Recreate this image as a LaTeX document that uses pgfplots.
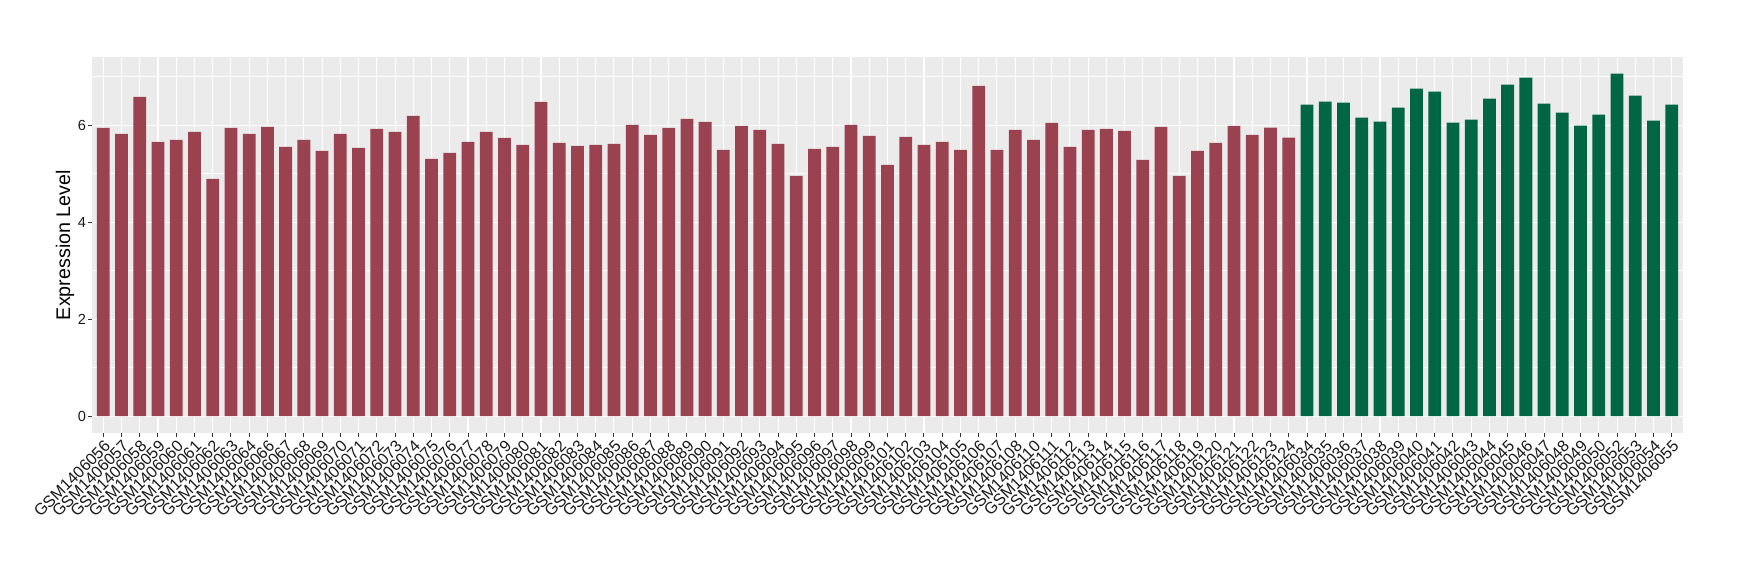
\documentclass[border=0pt]{standalone}
\usepackage{pgfplots}
\pgfplotsset{compat=1.18}
\usepackage{pgfplotstable}
\usepackage{fontspec}
\setmainfont{Liberation Sans}
\definecolor{bgcol}{HTML}{EBEBEB}
\definecolor{redbar}{HTML}{9B4251}
\definecolor{greenbar}{HTML}{006644}
\definecolor{ticktxt}{HTML}{1A1A1A}
\definecolor{tickcol}{HTML}{333333}
\pgfplotstableread{
x y
0 5.945
1 5.82
2 6.585
3 5.656
4 5.697
5 5.862
6 4.892
7 5.945
8 5.82
9 5.966
10 5.553
11 5.697
12 5.47
13 5.82
14 5.532
15 5.924
16 5.862
17 6.193
18 5.305
19 5.429
20 5.656
21 5.862
22 5.739
23 5.594
24 6.482
25 5.635
26 5.573
27 5.594
28 5.615
29 6.007
30 5.80
31 5.945
32 6.131
33 6.069
34 5.491
35 5.986
36 5.904
37 5.615
38 4.954
39 5.512
40 5.553
41 6.007
42 5.78
43 5.181
44 5.759
45 5.594
46 5.656
47 5.491
48 6.812
49 5.491
50 5.904
51 5.697
52 6.048
53 5.553
54 5.904
55 5.924
56 5.883
57 5.284
58 5.966
59 4.954
60 5.47
61 5.635
62 5.986
63 5.80
64 5.95
65 5.744
}\redtable
\pgfplotstableread{
x y
66 6.426
67 6.488
68 6.467
69 6.157
70 6.074
71 6.364
72 6.756
73 6.694
74 6.054
75 6.116
76 6.55
77 6.839
78 6.983
79 6.446
80 6.26
81 5.99
82 6.219
83 7.066
84 6.612
85 6.095
86 6.426
}\greentable
\begin{document}
\begin{tikzpicture}
\path[use as bounding box] (0,0) rectangle (870pt,290pt);
\begin{axis}[
  at={(46.15pt,73.35pt)}, anchor=south west,
  scale only axis, width=795.2pt, height=188.3pt,
  xmin=-0.6, xmax=86.6, ymin=-0.353, ymax=7.413,
  axis background/.style={fill=bgcol},
  axis line style={draw=none},
  xtick={0,...,86},
  xticklabels={GSM1406056,GSM1406057,GSM1406058,GSM1406059,GSM1406060,GSM1406061,GSM1406062,GSM1406063,GSM1406064,GSM1406066,GSM1406067,GSM1406068,GSM1406069,GSM1406070,GSM1406071,GSM1406072,GSM1406073,GSM1406074,GSM1406075,GSM1406076,GSM1406077,GSM1406078,GSM1406079,GSM1406080,GSM1406081,GSM1406082,GSM1406083,GSM1406084,GSM1406085,GSM1406086,GSM1406087,GSM1406088,GSM1406089,GSM1406090,GSM1406091,GSM1406092,GSM1406093,GSM1406094,GSM1406095,GSM1406096,GSM1406097,GSM1406098,GSM1406099,GSM1406101,GSM1406102,GSM1406103,GSM1406104,GSM1406105,GSM1406106,GSM1406107,GSM1406108,GSM1406110,GSM1406111,GSM1406112,GSM1406113,GSM1406114,GSM1406115,GSM1406116,GSM1406117,GSM1406118,GSM1406119,GSM1406120,GSM1406121,GSM1406122,GSM1406123,GSM1406124,GSM1406034,GSM1406035,GSM1406036,GSM1406037,GSM1406038,GSM1406039,GSM1406040,GSM1406041,GSM1406042,GSM1406043,GSM1406044,GSM1406045,GSM1406046,GSM1406047,GSM1406048,GSM1406049,GSM1406050,GSM1406052,GSM1406053,GSM1406054,GSM1406055},
  ytick={0,2,4,6},
  minor ytick={1,3,5,7},
  xmajorgrids, ymajorgrids, yminorgrids,
  major grid style={white, line width=0.55pt},
  minor grid style={white, line width=0.3pt},
  tick align=outside,
  xtick pos=bottom, ytick pos=left,
  major tick length=2pt, minor tick length=0pt,
  tick style={tickcol, line width=0.5pt},
  /pgf/number format/assume math mode=true,
  ticklabel style={text=ticktxt},
  xticklabel style={rotate=45, anchor=north east, inner sep=0.5pt, font=\fontsize{8.1pt}{9pt}\selectfont},
  yticklabel style={inner sep=1pt, font=\fontsize{7.3pt}{8pt}\selectfont},
  ylabel={Expression Level},
  every axis y label/.style={at={(axis description cs:0,0.5)}, xshift=-13.65pt, rotate=90, anchor=center, font=\fontsize{9.85pt}{11pt}\selectfont},
]
\addplot[ybar, bar width=0.7, bar shift=0pt, fill=redbar, draw=none] table[x=x, y=y] {\redtable};
\addplot[ybar, bar width=0.7, bar shift=0pt, fill=greenbar, draw=none] table[x=x, y=y] {\greentable};
\end{axis}
\end{tikzpicture}
\end{document}
